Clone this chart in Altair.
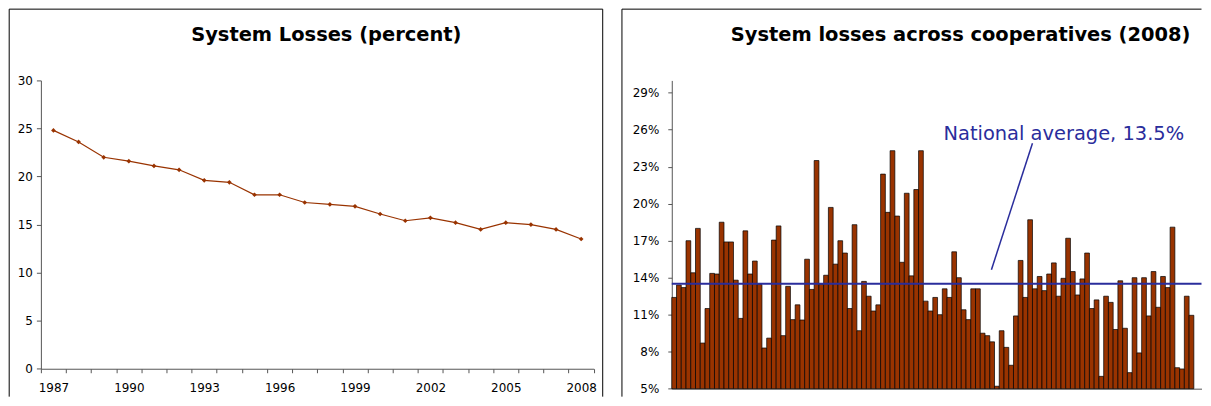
import altair as alt
import pandas as pd

# ---------------- data ----------------
years = list(range(1987, 2009))
losses = [24.8, 23.6, 22.0, 21.6, 21.1, 20.7, 19.6, 19.4, 18.1, 18.1, 17.3,
          17.1, 16.9, 16.1, 15.4, 15.7, 15.2, 14.5, 15.2, 15.0, 14.5, 13.5]

coop_losses = [
    12.4, 13.4, 13.2, 17.0, 14.4, 18.0, 8.7, 11.5, 14.35, 14.3,
    18.5, 16.9, 16.9, 13.8, 10.7, 17.8, 14.3, 15.35, 13.45, 8.3,
    9.1, 17.05, 18.2, 9.3, 13.3, 10.6, 11.8, 10.57, 15.5, 13.05,
    23.5, 13.45, 14.2, 19.7, 15.1, 17.0, 16.0, 11.5, 18.3, 9.7,
    13.7, 12.5, 11.3, 11.8, 22.4, 19.3, 24.3, 19.0, 15.25, 20.85,
    14.15, 21.15, 24.3, 12.1, 11.3, 12.4, 11.0, 13.1, 12.4, 16.1,
    14.0, 11.4, 10.6, 13.1, 13.1, 9.5, 9.3, 8.8, 5.2, 9.7,
    8.35, 6.9, 10.9, 15.4, 12.4, 18.7, 13.1, 14.1, 12.95, 14.3,
    15.2, 12.5, 13.95, 17.2, 14.5, 12.6, 13.9, 16.0, 11.5, 12.2,
    6.0, 12.5, 12.0, 9.8, 13.75, 9.9, 6.3, 14.0, 7.9, 14.0,
    10.9, 14.5, 11.6, 14.1, 13.2, 18.1, 6.7, 6.6, 12.5, 10.95,
]
coop_index = list(range(1, len(coop_losses) + 1))

national_average = [13.5]
left_title = "System Losses (percent)"
right_title = "System losses across cooperatives (2008)"
annotation_text = ["National average, 13.5%"]
annotation_x = [82.6]
annotation_y = [25.15]
leader_x = [67.35]
leader_y = [14.65]
leader_x2 = [76.0]
leader_y2 = [24.9]

left_y_ticks = [0, 5, 10, 15, 20, 25, 30]
right_y_ticks = [5, 8, 11, 14, 17, 20, 23, 26, 29]

# ---------------- style ----------------
FONT = "DejaVu Sans"
BROWN = "#993300"
BLUE = "#2a2d9c"
AXIS = "#555555"

LW, LH = 554.7, 289.3
RW, RH = 531.5, 309.3
STEP = 4.762
TOP = -71.5


def frame_line(x, x2=None, y=None, y2=None):
    enc = {"x": alt.value(x), "y": alt.value(y)}
    if x2 is not None:
        enc["x2"] = alt.value(x2)
    if y2 is not None:
        enc["y2"] = alt.value(y2)
    return alt.Chart(pd.DataFrame({"b": [0]})).mark_rule(
        color="#000", strokeWidth=1).encode(**enc)


def title_text(text, x):
    return alt.Chart(pd.DataFrame({"t": [text]})).mark_text(
        font=FONT, fontSize=19.5, fontWeight="bold", color="#000",
        align="center", baseline="alphabetic").encode(
        x=alt.value(x), y=alt.value(-40), text="t:N")


# ---------------- left panel ----------------
line_df = pd.DataFrame({"year": years, "loss": losses})

x_left_scale = alt.Scale(type="band", paddingInner=0, paddingOuter=0)
x_left_axis = alt.Axis(title=None, labelAngle=0, tickBand="extent",
                       labelExpr="(datum.value - 1987) % 3 == 0 ? datum.label : ''",
                       labelOverlap=False, labelFont=FONT, labelFontSize=12,
                       labelColor="#000", tickSize=4, tickColor=AXIS,
                       domainColor=AXIS, labelPadding=10, grid=False)
y_left_scale = alt.Scale(domain=[0, 30], nice=False)
y_left_axis = alt.Axis(title=None, values=left_y_ticks, grid=False, labelFont=FONT,
                       labelFontSize=12, labelColor="#000", tickSize=4.5,
                       labelOverlap=False, tickColor=AXIS, domainColor=AXIS,
                       labelPadding=4)

line = alt.Chart(line_df).mark_line(color=BROWN, strokeWidth=1.2).encode(
    x=alt.X("year:O", scale=x_left_scale, axis=x_left_axis),
    y=alt.Y("loss:Q", scale=y_left_scale, axis=y_left_axis))
pts = alt.Chart(line_df).mark_point(shape="diamond", filled=True, size=22,
                                    color=BROWN, opacity=1).encode(
    x=alt.X("year:O", scale=x_left_scale, axis=x_left_axis),
    y=alt.Y("loss:Q", scale=y_left_scale, axis=y_left_axis))

LB = LH + 28
left = alt.layer(
    line, pts,
    frame_line(-31.8, x2=LW + 9, y=TOP),
    frame_line(-31.8, y=TOP, y2=LB),
    frame_line(LW + 9, y=TOP, y2=LB),
    title_text(left_title, LW / 2 + 9),
).properties(width=LW, height=LH)

# ---------------- right panel ----------------
bar_df = pd.DataFrame({"idx": coop_index, "loss": coop_losses})

x_right_scale = alt.Scale(domain=[0, RW / STEP], nice=False, zero=False)
x_right_axis = alt.Axis(title=None, labels=False, ticks=False, grid=False,
                        domainColor=AXIS)
y_right_scale = alt.Scale(domain=[5, 30], nice=False, zero=False)
y_right_axis = alt.Axis(title=None, values=right_y_ticks, grid=False,
                        labelExpr="datum.value + '%'", labelFont=FONT,
                        labelFontSize=12, labelColor="#000", tickSize=4,
                        labelOverlap=False, tickColor=AXIS, domainColor=AXIS,
                        labelPadding=9)

bars = alt.Chart(bar_df).transform_calculate(x0="datum.idx - 1").mark_rect(
    color=BROWN, stroke="#000", strokeWidth=0.7).encode(
    x=alt.X("x0:Q", scale=x_right_scale, axis=x_right_axis), x2="idx:Q",
    y=alt.Y("loss:Q", scale=y_right_scale, axis=y_right_axis), y2=alt.datum(5))

avg_rule = alt.Chart(pd.DataFrame({"avg": national_average})).mark_rule(
    color=BLUE, strokeWidth=2).encode(
    y=alt.Y("avg:Q", scale=y_right_scale, axis=y_right_axis))

ann_df = pd.DataFrame({"t": annotation_text, "x": annotation_x, "y": annotation_y})
ann = alt.Chart(ann_df).mark_text(font=FONT, fontSize=19.5, color=BLUE,
                                  align="center", baseline="alphabetic").encode(
    x=alt.X("x:Q", scale=x_right_scale, axis=x_right_axis),
    y=alt.Y("y:Q", scale=y_right_scale, axis=y_right_axis), text="t:N")

lead_df = pd.DataFrame({"x": leader_x, "y": leader_y, "x2": leader_x2, "y2": leader_y2})
leader = alt.Chart(lead_df).mark_rule(color=BLUE, strokeWidth=1.5).encode(
    x=alt.X("x:Q", scale=x_right_scale, axis=x_right_axis),
    y=alt.Y("y:Q", scale=y_right_scale, axis=y_right_axis), x2="x2:Q", y2="y2:Q")

RB = RH + 8
right = alt.layer(
    bars, avg_rule, leader, ann,
    frame_line(-50, x2=RW, y=TOP),
    frame_line(-50, y=TOP, y2=RB),
    title_text(right_title, RW / 2 + 24),
).properties(width=RW, height=RH)

chart = alt.hconcat(left, right, spacing=17).properties(
    padding=0, background="white"
).configure_view(stroke=None).configure_axis(labelOverlap=False)

chart.save("out.html", embed_options={"renderer": "svg", "actions": False})
